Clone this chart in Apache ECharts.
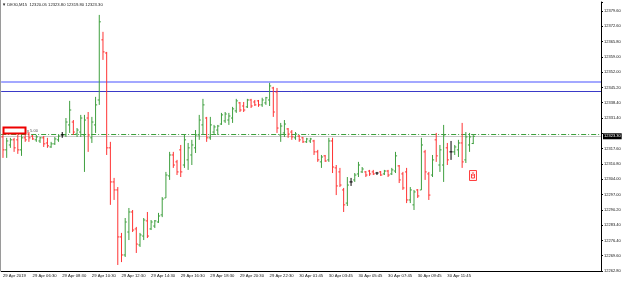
<!DOCTYPE html>
<html>
<head>
<meta charset="utf-8">
<script src="https://cdn.jsdelivr.net/npm/echarts@6/dist/echarts.min.js"></script>
<style>
html, body { margin: 0; padding: 0; background: #fff; }
#chart { width: 625px; height: 282px; }
</style>
</head>
<body>
<div id="chart"></div>
<script>
// DE30 M15 bars, 29-30 Apr 2019
var opens = [12323.0,12317.2,12319.4,12321.7,12321.7,12317.2,12322.6,12324.3,12323.4,12321.7,
12321.2,12322.6,12320.3,12318.5,12319.9,12321.7,12323.9,12323.9,12328.4,12329.7,
12324.3,12325.2,12323.9,12331.5,12322.6,12328.4,12339.6,12366.6,12360.7,12318.1,
12302.8,12299.2,12278.1,12270.0,12280.3,12289.3,12281.7,12274.5,12278.5,12285.3,
12281.7,12283.0,12284.8,12288.0,12295.6,12305.5,12314.9,12311.8,12317.2,12310.4,
12312.7,12314.9,12318.1,12323.9,12328.4,12331.5,12322.6,12325.2,12326.1,12328.8,
12330.2,12330.6,12331.5,12334.7,12338.3,12336.9,12336.5,12339.6,12338.7,12339.2,
12337.4,12338.3,12339.6,12345.0,12343.2,12323.9,12324.8,12326.6,12325.2,12322.6,
12323.4,12322.6,12320.8,12321.2,12321.2,12316.3,12311.8,12314.5,12312.7,12321.2,
12309.1,12307.3,12299.2,12293.3,12302.8,12303.7,12306.4,12307.3,12307.3,12307.7,
12307.3,12306.8,12307.3,12306.4,12307.7,12306.4,12307.7,12310.0,12306.4,12307.3,
12294.7,12292.5,12299.2,12299.2,12316.3,12306.4,12305.9,12321.7,12310.4,12310.4,
12318.1,12316.3,12316.3,12317.2,12320.3,12312.7,12319.4,12320.05];

var highs = [12324.3,12322.6,12322.6,12322.6,12323.9,12324.3,12323.9,12325.2,12323.9,12323.9,
12323.0,12323.4,12322.6,12320.8,12323.0,12323.9,12325.2,12331.5,12339.2,12330.6,
12327.0,12332.9,12332.9,12334.2,12332.0,12341.0,12377.8,12370.2,12361.2,12320.8,
12304.6,12300.5,12279.9,12286.6,12291.1,12290.2,12282.6,12279.9,12286.6,12289.3,
12285.7,12285.7,12288.9,12296.0,12307.3,12316.3,12316.3,12312.7,12319.4,12323.9,
12320.3,12321.7,12326.1,12332.9,12340.1,12332.0,12332.0,12328.4,12328.4,12333.8,
12334.2,12333.8,12336.5,12340.1,12338.7,12338.7,12340.1,12340.1,12339.6,12339.6,
12340.6,12341.0,12347.3,12345.5,12345.0,12329.3,12330.6,12327.0,12326.1,12325.2,
12323.9,12323.0,12322.6,12322.6,12321.7,12317.2,12314.9,12314.9,12322.6,12322.6,
12310.4,12309.1,12300.1,12305.0,12304.6,12306.8,12311.8,12309.5,12307.7,12308.2,
12308.2,12307.3,12307.7,12308.2,12308.2,12309.1,12316.3,12310.4,12307.3,12309.1,
12300.5,12299.2,12299.6,12322.6,12317.2,12307.3,12314.9,12324.8,12319.4,12328.4,
12320.3,12321.2,12319.4,12321.7,12329.3,12325.2,12324.8,12323.80];

var lows = [12313.6,12313.6,12318.1,12316.3,12315.4,12314.5,12320.8,12320.8,12321.7,12320.8,
12320.3,12318.5,12318.1,12318.1,12319.4,12320.8,12322.6,12323.0,12324.8,12323.9,
12323.0,12323.0,12307.3,12316.3,12320.3,12324.8,12337.4,12357.6,12314.9,12292.5,
12294.7,12265.5,12266.8,12269.1,12276.7,12280.3,12270.9,12273.6,12276.7,12277.6,
12281.2,12282.1,12284.4,12287.0,12295.6,12303.7,12309.1,12305.9,12305.0,12309.1,
12308.2,12310.4,12315.8,12321.7,12323.9,12320.8,12321.7,12323.9,12323.9,12328.4,
12329.3,12328.4,12329.3,12333.8,12334.2,12334.2,12336.0,12336.0,12336.9,12336.5,
12336.5,12337.4,12336.9,12332.0,12324.8,12320.8,12323.0,12322.6,12321.7,12321.7,
12320.8,12320.3,12320.3,12320.3,12314.9,12311.8,12309.1,12311.8,12311.8,12306.8,
12296.9,12300.5,12289.3,12292.0,12301.0,12302.8,12305.0,12306.8,12305.0,12305.5,
12305.9,12305.9,12305.5,12305.9,12305.0,12305.9,12306.8,12302.3,12299.2,12293.3,
12293.3,12290.2,12295.6,12299.2,12303.7,12294.7,12305.0,12311.8,12307.3,12302.8,
12310.4,12312.7,12314.9,12314.0,12309.1,12311.3,12316.3,12319.80];

var closes = [12317.2,12321.2,12321.7,12318.1,12317.2,12322.6,12321.7,12322.6,12322.1,12323.0,
12322.6,12319.9,12319.0,12319.9,12322.1,12323.4,12323.9,12329.7,12335.1,12325.2,
12326.1,12331.5,12330.6,12323.9,12329.7,12337.4,12374.7,12361.2,12318.1,12302.8,
12299.2,12278.1,12270.0,12284.8,12289.3,12281.2,12274.9,12279.0,12285.7,12278.5,
12284.8,12285.3,12287.5,12295.1,12305.9,12314.9,12310.4,12307.3,12307.3,12321.7,
12318.1,12319.4,12323.9,12330.6,12337.4,12322.6,12328.4,12327.5,12327.9,12332.9,
12333.3,12332.4,12335.6,12339.2,12335.1,12335.1,12339.6,12336.9,12337.4,12337.4,
12339.6,12340.6,12345.9,12334.2,12327.0,12327.9,12328.8,12324.3,12323.0,12324.3,
12321.7,12320.8,12322.1,12322.1,12316.3,12312.7,12314.0,12312.2,12321.2,12309.5,
12301.0,12301.4,12292.5,12301.4,12302.8,12305.9,12310.4,12308.6,12305.9,12306.4,
12306.4,12306.8,12305.9,12307.7,12305.9,12308.2,12314.5,12303.7,12300.1,12294.7,
12299.2,12298.3,12296.5,12319.4,12307.3,12296.9,12312.7,12314.5,12317.2,12323.9,
12312.7,12316.3,12318.5,12320.3,12311.8,12323.0,12323.0,12323.30];

// one label every 8 bars
var timeLabels = ['29 Apr 2019','29 Apr 06:30','29 Apr 08:30','29 Apr 10:30','29 Apr 12:30',
  '29 Apr 14:30','29 Apr 16:30','29 Apr 18:30','29 Apr 20:30','29 Apr 22:30',
  '30 Apr 01:45','30 Apr 03:45','30 Apr 05:45','30 Apr 07:45','30 Apr 09:45','30 Apr 11:45'];

var priceLabels = ['12262.80','12269.60','12276.40','12283.40','12290.20','12297.00','12304.00',
  '12310.80','12317.60','','12331.40','12338.40','12345.20','12352.00','12359.00',
  '12365.80','12372.60','12379.60'];

var levelLightBlue = 12347.7;
var levelBlue = 12343.7;
var levelOrder = 12324.2;
var bid = 12323.30;

var header = '\u25BC DE30,M15  12320.05 12323.80 12319.80 12323.30';

var yMin = 12262.8, yMax = 12383.6, yStep = (12379.6 - 12262.8) / 17;
var slots = 162; // bars + empty space on the right (chart shift)

var UP = '#3f9f3f', DOWN = '#ff3333', FLAT = '#000000';

var cats = [];
for (var k = 0; k < slots; k++) cats.push(k);

var bars = [];
for (var i = 0; i < opens.length; i++) {
  bars.push([i, opens[i], highs[i], lows[i], closes[i]]);
}

function showIdx(idx) {
  return idx % 8 === 0 && idx / 8 < timeLabels.length;
}

function renderBar(params, api) {
  var i = api.value(0);
  var o = api.value(1), c = api.value(4);
  var po = api.coord([i, o]);
  var ph = api.coord([i, api.value(2)]);
  var pl = api.coord([i, api.value(3)]);
  var pc = api.coord([i, c]);
  var col = c > o ? UP : (c < o ? DOWN : FLAT);
  var x = ph[0];
  var st = { stroke: col, lineWidth: 1 };
  return {
    type: 'group',
    children: [
      { type: 'line', shape: { x1: x, y1: ph[1], x2: x, y2: pl[1] }, style: st },
      { type: 'line', shape: { x1: x - 1.6, y1: po[1], x2: x, y2: po[1] }, style: st },
      { type: 'line', shape: { x1: x, y1: pc[1], x2: x + 1.6, y2: pc[1] }, style: st }
    ]
  };
}

var chart = echarts.init(document.getElementById('chart'));

var option = {
  animation: false,
  backgroundColor: '#ffffff',
  grid: { left: 0, right: 24, top: 2, bottom: 11 },
  xAxis: {
    type: 'category',
    data: cats,
    boundaryGap: true,
    axisLine: { lineStyle: { color: '#000', width: 1 } },
    axisTick: { alignWithLabel: true, interval: showIdx, length: 2, lineStyle: { color: '#000' } },
    axisLabel: {
      interval: showIdx,
      formatter: function (v, idx) { return timeLabels[idx / 8] || ''; },
      fontSize: 4.2, fontFamily: 'Liberation Sans', color: '#111', align: 'left', margin: 3
    },
    splitLine: { show: false }
  },
  yAxis: {
    type: 'value',
    position: 'right',
    min: yMin, max: yMax, interval: yStep,
    axisLine: { show: true, lineStyle: { color: '#000', width: 1 } },
    axisTick: { show: true, length: 2, lineStyle: { color: '#000' } },
    axisLabel: {
      formatter: function (v) { return priceLabels[Math.round((v - yMin) / yStep)] || ''; },
      fontSize: 4, fontFamily: 'Liberation Sans', color: '#111', margin: 3
    },
    splitLine: { show: false }
  },
  series: [
    {
      type: 'line',
      data: [],
      silent: true,
      markLine: {
        symbol: 'none',
        silent: true,
        label: { show: false },
        data: [
          { yAxis: levelLightBlue, lineStyle: { color: '#a3a8ff', width: 2, type: 'solid' } },
          { yAxis: levelBlue, lineStyle: { color: '#3a3ac8', width: 1, type: 'solid' } },
          { yAxis: bid, lineStyle: { color: '#c8c8c8', width: 1, type: 'solid' },
            label: { show: true, position: 'end', formatter: bid.toFixed(2), color: '#fff',
              backgroundColor: '#000', fontSize: 4, fontFamily: 'Liberation Sans',
              padding: [1, 1, 1, 1], distance: 2 } },
          { yAxis: levelOrder, lineStyle: { color: '#3da03d', width: 1, type: [5, 2, 1, 2] } }
        ]
      }
    },
    {
      type: 'custom',
      renderItem: renderBar,
      encode: { x: 0, y: [1, 2, 3, 4] },
      data: bars,
      z: 5
    }
  ],
  graphic: [
    { type: 'text', left: 2, top: 3, style: { text: header, fontSize: 4.2, fontFamily: 'Liberation Sans', fill: '#222' } },
    { type: 'line', shape: { x1: 0.5, y1: 0, x2: 0.5, y2: 271 }, style: { stroke: '#9a9a9a', lineWidth: 1 } },
    { type: 'rect', shape: { x: 3.5, y: 127.5, width: 22, height: 6 }, style: { fill: '#fff', stroke: '#ee0000', lineWidth: 2 }, z: 20 },
    { type: 'text', x: 27, y: 129, style: { text: 'y 5.00', fontSize: 4, fontFamily: 'Liberation Sans', fill: '#555' }, z: 20 },
    { type: 'rect', shape: { x: 469.5, y: 170.5, width: 7, height: 10 }, style: { fill: '#fff0f0', stroke: '#ff4040', lineWidth: 1 }, z: 20 },
    { type: 'polyline', shape: { points: [[471.5, 174], [471.5, 178], [474.5, 178], [474.5, 174]] }, style: { stroke: '#ff4040', lineWidth: 1, fill: null }, z: 20 },
    { type: 'line', shape: { x1: 473, y1: 172, x2: 473, y2: 176 }, style: { stroke: '#ff4040', lineWidth: 1 }, z: 20 }
  ]
};

chart.setOption(option);
</script>
</body>
</html>
